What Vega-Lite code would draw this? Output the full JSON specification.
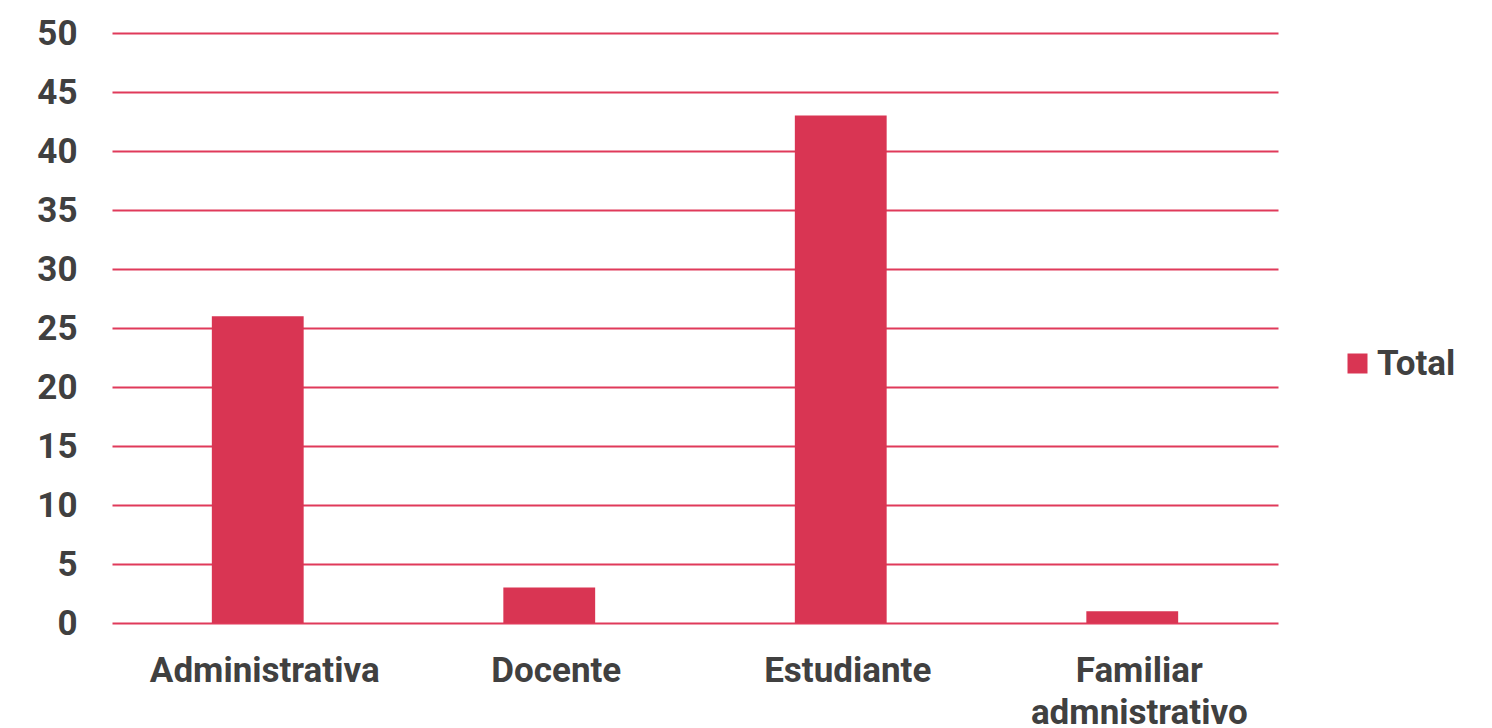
{
  "$schema": "https://vega.github.io/schema/vega-lite/v6.json",
  "autosize": "none",
  "width": 1166,
  "height": 590,
  "padding": {"left": 112, "top": 33, "right": 214, "bottom": 105},
  "background": "white",
  "config": {
    "view": {"stroke": null},
    "font": "Roboto"
  },
  "data": {
    "values": [
      {"categoria": "Administrativa", "serie": "Total", "valor": 26},
      {"categoria": "Docente", "serie": "Total", "valor": 3},
      {"categoria": "Estudiante", "serie": "Total", "valor": 43},
      {"categoria": "Familiar admnistrativo", "serie": "Total", "valor": 1}
    ]
  },
  "mark": {"type": "bar", "color": "#D93553"},
  "encoding": {
    "x": {
      "field": "categoria",
      "type": "nominal",
      "sort": null,
      "scale": {"paddingInner": 0.685, "paddingOuter": 0.3425},
      "axis": {
        "title": null,
        "labelAngle": 0,
        "labelFont": "Roboto",
        "labelFontWeight": "bold",
        "labelFontSize": 35,
        "labelColor": "#404040",
        "labelPadding": 30,
        "labelLineHeight": 42,
        "labelLimit": 0,
        "labelOffset": 7,
        "labelExpr": "datum.label == 'Familiar admnistrativo' ? ['Familiar', 'admnistrativo'] : datum.label",
        "domain": false,
        "ticks": false,
        "grid": false
      }
    },
    "y": {
      "field": "valor",
      "type": "quantitative",
      "scale": {"domain": [0, 50]},
      "axis": {
        "title": null,
        "values": [0, 5, 10, 15, 20, 25, 30, 35, 40, 45, 50],
        "labelFont": "Roboto",
        "labelFontWeight": "bold",
        "labelFontSize": 35,
        "labelColor": "#404040",
        "labelPadding": 35,
        "domain": false,
        "ticks": false,
        "grid": true,
        "gridColor": "#E03A5A",
        "gridWidth": 2,
        "gridOpacity": 1
      }
    },
    "fill": {
      "field": "serie",
      "type": "nominal",
      "scale": {"range": ["#D93553"]},
      "legend": {
        "title": null,
        "orient": "none",
        "legendX": 1228,
        "legendY": 313,
        "symbolType": "square",
        "symbolSize": 400,
        "symbolStrokeWidth": 0,
        "labelFont": "Roboto",
        "labelFontWeight": "bold",
        "labelFontSize": 35,
        "labelColor": "#404040",
        "labelOffset": 2,
        "labelLimit": 0
      }
    }
  }
}
